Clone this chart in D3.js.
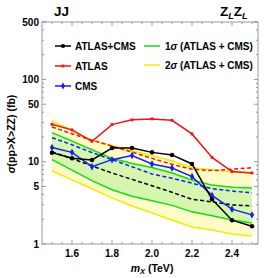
<!DOCTYPE html>
<html>
<head>
<meta charset="utf-8">
<script src="https://cdn.jsdelivr.net/npm/d3@7"></script>
<style>
  body { margin: 0; background: #fff; }
  svg { display: block; font-family: "Liberation Sans", Arial, sans-serif; }
</style>
</head>
<body>
<div id="chart"></div>
<script>
// masses (TeV)
const mass = [1.5, 1.6, 1.7, 1.8, 1.9, 2.0, 2.1, 2.2, 2.3, 2.4, 2.5];

// observed limits (fb)
const combObs = [12.9, 11.0, 10.5, 14.7, 14.7, 13.0, 12.1, 9.4, 3.5, 1.95, 1.64];
const atlasObs = [28.5, 24.4, 17.7, 28.3, 32.3, 33.2, 31.9, 21.8, 11.3, 7.6, 7.3];
const cmsObs = [14.9, 13.0, 8.7, 10.6, 11.9, 9.4, 8.4, 6.6, 3.9, 2.65, 2.26];

// expected limits (fb)
const combExp = [13.2, 10.9, 8.9, 7.3, 6.1, 5.1, 4.25, 3.5, 3.25, 2.99, 2.9];
const atlasExp = [26.4, 21.9, 18.3, 15.5, 13.1, 11.0, 9.3, 8.1, 7.8, 8.1, 8.45];
const cmsExp = [19.6, 16.1, 12.9, 10.6, 8.7, 7.1, 6.3, 5.5, 4.7, 4.4, 4.2];

// bands of the combined expected limit
const band1Lo = [10.6, 7.9, 5.9, 4.56, 3.8, 3.35, 2.95, 2.46, 2.2, 1.96, 1.8];
const band1Hi = [22.6, 17.8, 14.0, 11.0, 9.5, 8.5, 7.3, 6.0, 5.2, 4.9, 4.8];
const band2Lo = [7.77, 6.03, 4.69, 3.64, 2.9, 2.39, 1.96, 1.61, 1.48, 1.32, 1.25];
const band2Hi = [31.6, 23.9, 18.3, 15.7, 13.6, 11.8, 10.3, 8.45, 8.0, 7.55, 7.3];

const yTicks = [1, 5, 10, 50, 100, 500];
const xTicks = [1.6, 1.8, 2.0, 2.2, 2.4];

const width = 266, height = 278;
const mLeft = 42, mRight = 258, mTop = 22, mBottom = 244;

const svg = d3.select("#chart").append("svg")
  .attr("width", width)
  .attr("height", height);

const x = d3.scaleLinear().domain([1.45, 2.53]).range([mLeft, mRight]);
const y = d3.scaleLog().domain([1, 500]).range([mBottom, mTop]);

svg.append("clipPath").attr("id", "clip")
  .append("rect")
  .attr("x", mLeft).attr("y", mTop)
  .attr("width", mRight - mLeft).attr("height", mBottom - mTop);

const plot = svg.append("g").attr("clip-path", "url(#clip)");

// bands
const area = (lo, hi) => d3.area()
  .x((d, i) => x(mass[i]))
  .y0((d, i) => y(lo[i]))
  .y1((d, i) => y(hi[i]))(mass);

plot.append("path").attr("d", area(band2Lo, band2Hi)).attr("fill", "#fdfbc8");
plot.append("path").attr("d", area(band1Lo, band1Hi)).attr("fill", "#d6f5ae");

const line = d3.line().x((d, i) => x(mass[i])).y(d => y(d));

function drawLine(vals, color, dash) {
  plot.append("path")
    .attr("d", line(vals))
    .attr("fill", "none")
    .attr("stroke", color)
    .attr("stroke-width", 1.5)
    .attr("stroke-dasharray", dash ? "4,2.5" : null);
}

drawLine(band2Lo, "#f5ea00");
drawLine(band2Hi, "#f5ea00");
drawLine(band1Lo, "#14dc14");
drawLine(band1Hi, "#14dc14");
drawLine(combExp, "#000", true);
drawLine(cmsExp, "#1420f0", true);
drawLine(atlasExp, "#f01414", true);
drawLine(atlasObs, "#f01414");
drawLine(cmsObs, "#1420f0");
drawLine(combObs, "#000");

// markers
function markers(vals, color, shape) {
  plot.selectAll(null)
    .data(vals)
    .enter()
    .append("path")
    .attr("transform", (d, i) => `translate(${x(mass[i])},${y(d)})`)
    .attr("d", d3.symbol().type(shape).size(shape === d3.symbolSquare ? 8 : 16)())
    .attr("fill", color);
}
markers(atlasObs, "#f01414", d3.symbolSquare);
markers(cmsObs, "#1420f0", d3.symbolDiamond);
markers(combObs, "#000", d3.symbolCircle);

// frame
svg.append("rect")
  .attr("x", mLeft).attr("y", mTop)
  .attr("width", mRight - mLeft).attr("height", mBottom - mTop)
  .attr("fill", "none")
  .attr("stroke", "#9a9a9a")
  .attr("stroke-width", 1);

// y ticks (log minor)
const yMinor = [];
for (let dec = 1; dec < 500; dec *= 10) {
  for (let k = 1; k < 10; k++) {
    if (dec * k <= 500) yMinor.push(dec * k);
  }
}
yMinor.push(500);
const tickG = svg.append("g").attr("stroke", "#9a9a9a").attr("stroke-width", 1);
yMinor.forEach(v => {
  const major = yTicks.includes(v);
  const len = major ? 4 : 2;
  tickG.append("line").attr("x1", mLeft).attr("x2", mLeft + len)
    .attr("y1", y(v)).attr("y2", y(v));
  tickG.append("line").attr("x1", mRight).attr("x2", mRight - len)
    .attr("y1", y(v)).attr("y2", y(v));
});

// x ticks every 0.05
d3.range(1.5, 2.53, 0.05).forEach(v => {
  const major = xTicks.some(t => Math.abs(t - v) < 1e-6);
  const len = major ? 4 : 2;
  tickG.append("line").attr("y1", mBottom).attr("y2", mBottom - len)
    .attr("x1", x(v)).attr("x2", x(v));
  tickG.append("line").attr("y1", mTop).attr("y2", mTop + len)
    .attr("x1", x(v)).attr("x2", x(v));
});

// tick labels
svg.selectAll("text.ylab")
  .data(yTicks)
  .enter()
  .append("text")
  .attr("class", "ylab")
  .attr("x", mLeft - 3)
  .attr("y", d => y(d) + 3.5)
  .attr("text-anchor", "end")
  .attr("font-size", 10)
  .attr("font-weight", "bold")
  .text(d => d);

svg.selectAll("text.xlab")
  .data(xTicks)
  .enter()
  .append("text")
  .attr("class", "xlab")
  .attr("x", d => x(d))
  .attr("y", 257)
  .attr("text-anchor", "middle")
  .attr("font-size", 10)
  .attr("font-weight", "bold")
  .text(d => d.toFixed(1));

// axis titles
const xt = svg.append("text")
  .attr("x", 152).attr("y", 272)
  .attr("text-anchor", "middle")
  .attr("font-size", 10.5)
  .attr("font-weight", "bold");
xt.append("tspan").attr("font-style", "italic").text("m");
xt.append("tspan").attr("font-style", "italic").attr("font-size", 7.5).attr("dy", 2).text("X");
xt.append("tspan").attr("dy", -2).text(" (TeV)");

const yt = svg.append("text")
  .attr("transform", "translate(15,134) rotate(-90)")
  .attr("text-anchor", "middle")
  .attr("font-size", 10.5)
  .attr("font-weight", "bold");
yt.append("tspan").attr("font-style", "italic").text("σ");
yt.append("tspan").text("(pp>X>ZZ) (fb)");

// corner titles
svg.append("text").attr("x", 54).attr("y", 16)
  .attr("font-size", 13.5).attr("font-weight", "bold").text("JJ");
const zz = svg.append("text").attr("x", 220).attr("y", 16)
  .attr("font-size", 13.5).attr("font-weight", "bold");
zz.append("tspan").text("Z");
zz.append("tspan").attr("font-size", 9).attr("font-style", "italic").attr("dy", 2.5).text("L");
zz.append("tspan").attr("dy", -2.5).text("Z");
zz.append("tspan").attr("font-size", 9).attr("font-style", "italic").attr("dy", 2.5).text("L");

// legend
const legendLeft = [
  { label: "ATLAS+CMS", color: "#000", shape: d3.symbolCircle },
  { label: "ATLAS", color: "#f01414", shape: d3.symbolSquare },
  { label: "CMS", color: "#1420f0", shape: d3.symbolDiamond }
];
const legendRight = [
  { label: "1σ (ATLAS + CMS)", color: "#14dc14" },
  { label: "2σ (ATLAS + CMS)", color: "#f5ea00" }
];

legendLeft.forEach((d, i) => {
  const ly = 46 + i * 20;
  svg.append("line").attr("x1", 55).attr("x2", 71).attr("y1", ly).attr("y2", ly)
    .attr("stroke", d.color).attr("stroke-width", 1.5);
  svg.append("path")
    .attr("transform", `translate(63,${ly})`)
    .attr("d", d3.symbol().type(d.shape).size(d.shape === d3.symbolSquare ? 8 : 14)())
    .attr("fill", d.color);
  svg.append("text").attr("x", 75).attr("y", ly + 3.5)
    .attr("font-size", 10).attr("font-weight", "bold").text(d.label);
});

legendRight.forEach((d, i) => {
  const ly = 46 + i * 19;
  svg.append("line").attr("x1", 144).attr("x2", 160).attr("y1", ly).attr("y2", ly)
    .attr("stroke", d.color).attr("stroke-width", 1.5);
  const t = svg.append("text").attr("x", 165).attr("y", ly + 3.5)
    .attr("font-size", 10).attr("font-weight", "bold");
  t.append("tspan").text(d.label[0]);
  t.append("tspan").attr("font-style", "italic").text("σ");
  t.append("tspan").text(d.label.slice(2));
});
</script>
</body>
</html>
